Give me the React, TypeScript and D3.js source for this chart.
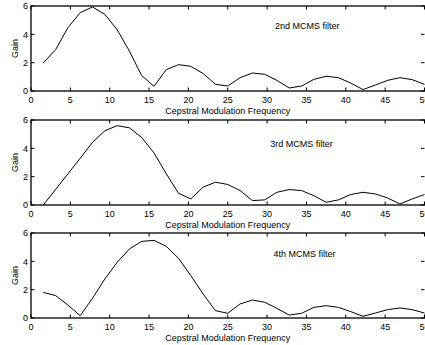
import * as d3 from 'd3';

// cepstral modulation frequency of each filter sample
const freq = [
  1.56, 3.13, 4.69, 6.25, 7.81, 9.38, 10.94, 12.5, 14.06, 15.63, 17.19, 18.75,
  20.31, 21.88, 23.44, 25.0, 26.56, 28.13, 29.69, 31.25, 32.81, 34.38, 35.94,
  37.5, 39.06, 40.63, 42.19, 43.75, 45.31, 46.88, 48.44, 50.0,
];

const gain2nd = [
  1.98, 2.92, 4.47, 5.53, 5.93, 5.41, 4.33, 2.82, 1.09, 0.33, 1.51, 1.86,
  1.74, 1.23, 0.47, 0.35, 0.94, 1.27, 1.18, 0.75, 0.21, 0.35, 0.82, 1.04,
  0.94, 0.56, 0.1, 0.42, 0.75, 0.94, 0.8, 0.47,
];

const gain3rd = [
  0.0, 1.1, 2.2, 3.3, 4.42, 5.24, 5.6, 5.45, 4.77, 3.68, 2.2, 0.83,
  0.43, 1.26, 1.61, 1.45, 1.02, 0.31, 0.36, 0.9, 1.09, 1.02, 0.66, 0.19,
  0.36, 0.74, 0.9, 0.78, 0.5, 0.07, 0.43, 0.74,
];

const gain4th = [
  1.81, 1.58, 0.92, 0.16, 1.39, 2.75, 3.93, 4.87, 5.41, 5.48, 5.06, 4.21,
  2.99, 1.69, 0.52, 0.33, 0.99, 1.27, 1.11, 0.68, 0.21, 0.33, 0.75, 0.87,
  0.75, 0.45, 0.12, 0.35, 0.59, 0.71, 0.59, 0.35,
];

const xTicks = [0, 5, 10, 15, 20, 25, 30, 35, 40, 45, 50];
const yTicks = [0, 2, 4, 6];

const W = 425;
const H = 345;
const left = 31;
const right = 424.5;
const panelH = 85;

const panels = [
  { top: 6, label: '2nd MCMS filter', values: gain2nd, tx: 31.0, ty: 4.6 },
  { top: 120, label: '3rd MCMS filter', values: gain3rd, tx: 30.4, ty: 4.35 },
  { top: 233, label: '4th MCMS filter', values: gain4th, tx: 30.8, ty: 4.55 },
];

const font = '"Liberation Sans", Arial, Helvetica, sans-serif';

const Panel = ({ top, label, values, tx, ty }) => {
  const x = d3.scaleLinear().domain([0, 50]).range([left, right]);
  const y = d3.scaleLinear().domain([0, 6]).range([top + panelH, top]);
  const line = d3
    .line<number>()
    .x((_, i) => x(freq[i]))
    .y((d) => y(d));
  const tl = 3.5;

  return (
    <g>
      <path d={line(values) || ''} fill="none" stroke="#000" strokeWidth={1} />

      {/* frame */}
      <rect
        x={x(0)}
        y={y(6)}
        width={x(50) - x(0) + 2}
        height={y(0) - y(6)}
        fill="none"
        stroke="#000"
        strokeWidth={1.3}
      />

      {xTicks.map((t) => (
        <g key={'x' + t}>
          <line x1={x(t)} x2={x(t)} y1={y(0)} y2={y(0) - tl} stroke="#000" />
          <line x1={x(t)} x2={x(t)} y1={y(6)} y2={y(6) + tl} stroke="#000" />
          <text
            x={x(t)}
            y={y(0) + 11.5}
            textAnchor="middle"
            fontSize={9}
            fontFamily={font}
          >
            {t}
          </text>
        </g>
      ))}

      {yTicks.map((t) => (
        <g key={'y' + t}>
          <line x1={x(0)} x2={x(0) + tl} y1={y(t)} y2={y(t)} stroke="#000" />
          <line x1={x(50)} x2={x(50) - tl} y1={y(t)} y2={y(t)} stroke="#000" />
          <text
            x={x(0) - 3}
            y={y(t) + 3.2}
            textAnchor="end"
            fontSize={9}
            fontFamily={font}
          >
            {t}
          </text>
        </g>
      ))}

      <text
        x={(x(0) + x(50)) / 2}
        y={y(0) + 22.5}
        textAnchor="middle"
        fontSize={9}
        fontFamily={font}
      >
        Cepstral Modulation Frequency
      </text>

      <text
        transform={`translate(18, ${top + panelH / 2}) rotate(-90)`}
        textAnchor="middle"
        fontSize={9}
        fontFamily={font}
      >
        Gain
      </text>

      <text x={x(tx)} y={y(ty) + 3.2} fontSize={9} fontFamily={font}>
        {label}
      </text>
    </g>
  );
};

export default function App() {
  return (
    <svg
      width={W}
      height={H}
      style={{ position: 'absolute', left: 0, top: 0, background: '#fff' }}
    >
      {panels.map((p) => (
        <Panel key={p.label} {...p} />
      ))}
    </svg>
  );
}
